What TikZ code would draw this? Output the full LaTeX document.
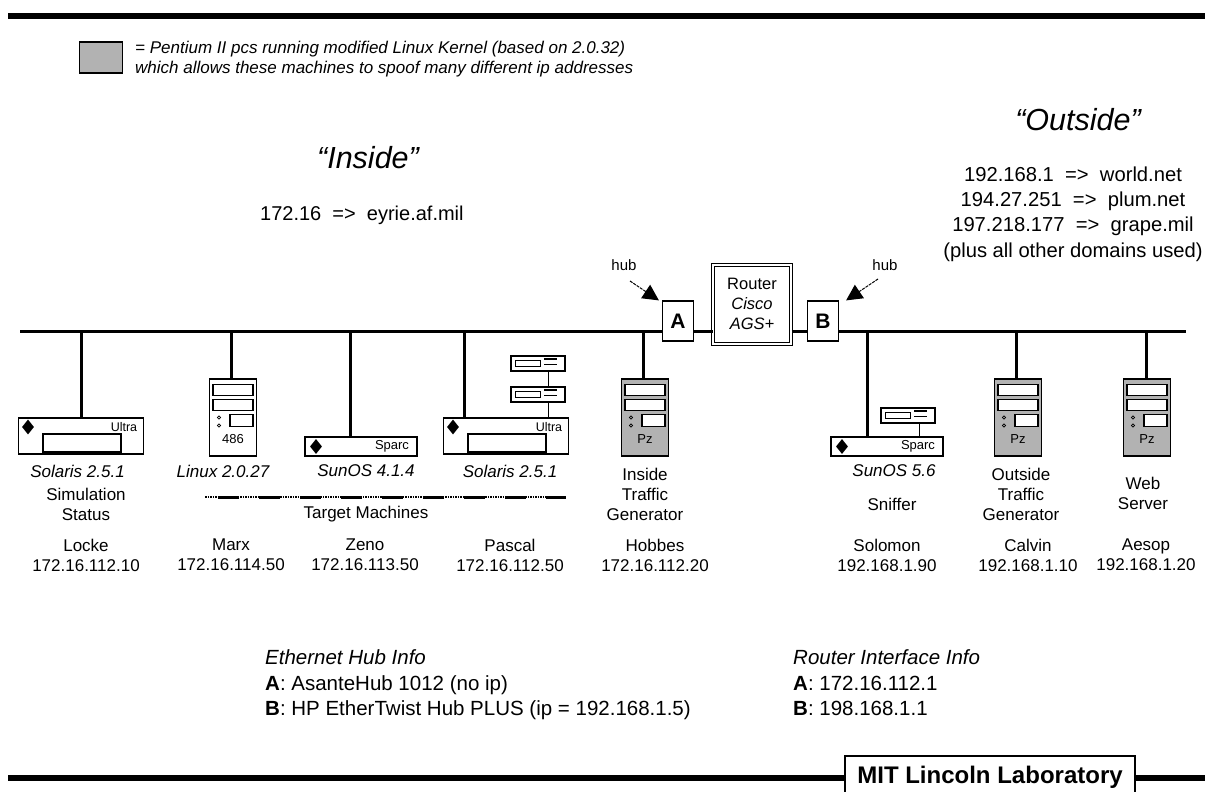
\documentclass[tikz,border=0pt]{standalone}
\usepackage{fontspec}
\setmainfont{Liberation Sans}
\usetikzlibrary{arrows.meta,shapes.geometric}
\definecolor{pzgray}{gray}{0.70}
\tikzset{
  wire/.style={line width=3pt},
  thinwire/.style={line width=1pt},
  bar/.style={line width=6pt},
  lbl/.style={font=\fontsize{17}{20}\selectfont, inner sep=0pt, align=center},
  oslbl/.style={lbl, font=\fontsize{17}{20}\selectfont\itshape},
  infolbl/.style={lbl, anchor=north west, align=left, font=\fontsize{20.5}{25.5}\selectfont},
  hubbox/.style={draw, line width=1.2pt, fill=white, minimum width=31pt, minimum height=40pt, inner sep=0pt, font=\fontsize{21}{23}\selectfont\bfseries},
  towerbox/.style={draw, line width=1.2pt, minimum width=47pt, minimum height=77pt, inner sep=0pt},
  ultrabox/.style={draw, line width=1.2pt, fill=white, minimum width=125pt, minimum height=36pt, inner sep=0pt},
  sparcbox/.style={draw, line width=1.2pt, fill=white, minimum width=112pt, minimum height=19pt, inner sep=0pt},
  diskbox/.style={draw, line width=1.2pt, fill=white, minimum width=54pt, minimum height=15pt, inner sep=0pt},
  tower/.pic={
    \draw[line width=1.1pt, fill=white] (-20,-33) rectangle (20,-22);
    \draw[line width=1.1pt, fill=white] (-20,-18) rectangle (20,-7);
    \draw[line width=1.1pt, fill=white] (-3,-3) rectangle (20,9);
    \draw[line width=.7pt] (-14,0) circle (1.6pt) (-14,8) circle (1.6pt);
    \node[lbl, font=\fontsize{13}{15}\selectfont] (-label) at (0,22) {\tikzpictext};
  },
  ultra/.pic={
    \node[diamond, fill=black, minimum width=12pt, minimum height=15pt, inner sep=0pt] (-logo) at (-53,-9) {};
    \node[lbl, font=\fontsize{12.5}{14}\selectfont] (-label) at (43,-9) {Ultra};
    \draw[line width=1.1pt] (-38,16) rectangle (40,-2);
    \draw[line width=2pt] (-38,16) -- (40,16);
  },
  sparc/.pic={
    \node[diamond, fill=black, minimum width=12pt, minimum height=15pt, inner sep=0pt] (-logo) at (-45,0) {};
    \node[lbl, font=\fontsize{13}{15}\selectfont] (-label) at (31,0) {Sparc};
  },
  disk/.pic={
    \draw[line width=1pt] (-23,-3.5) rectangle (2,2.5);
    \draw[line width=2pt] (6,-5) -- (19,-5);
    \draw[line width=.8pt] (6,.5) -- (19,.5);
  },
}
\begin{document}
\begin{tikzpicture}[x=1pt,y=-1pt]
  \useasboundingbox (0,0) rectangle (1205,792);

  \coordinate (topL) at (8,16);
  \coordinate (topR) at (1205,16);
  \draw[bar] (topL) -- (topR);

  % legend
  \node[draw, line width=1.2pt, fill=pzgray, minimum width=43pt, minimum height=31pt, inner sep=0pt] (legend) at (101,57.5) {};
  \node[lbl, anchor=west, align=left, font=\fontsize{17}{20}\selectfont\itshape] (legendtxt) at (135,59.5) {= Pentium II pcs running modified Linux Kernel (based on 2.0.32)\\which allows these machines to spoof many different ip addresses};

  % networks
  \node[lbl, font=\fontsize{30.5}{32}\selectfont\itshape] (inside) at (368,158) {“Inside”};
  \node[lbl, anchor=west, font=\fontsize{20}{25}\selectfont] (insidenet) at (260,215) {172.16 \ =\textgreater{} \ eyrie.af.mil};
  \node[lbl, font=\fontsize{30.5}{32}\selectfont\itshape] (outside) at (1078,120) {“Outside”};
  \node[lbl, font=\fontsize{20.2}{25.3}\selectfont] (outsidenet) at (1073,214) {192.168.1 \ =\textgreater{} \ world.net\\194.27.251 \ =\textgreater{} \ plum.net\\197.218.177 \ =\textgreater{} \ grape.mil\\(plus all other domains used)};

  % hubs and router
  \node[hubbox] (hubA) at (678,321) {A};
  \node[hubbox] (hubB) at (823,321) {B};
  \node[draw, double, double distance=2pt, line width=1pt, fill=white, minimum width=78pt, minimum height=79pt, inner sep=0pt, font=\fontsize{16.5}{20}\selectfont, align=center] (router) at (752,304) {Router\\\textit{Cisco}\\\textit{AGS+}};

  \coordinate (busL) at (20,331);
  \coordinate (busR) at (1186,331);
  \draw[wire] (busL) -- (busL -| hubA.west);
  \draw[wire] (busL -| hubA.east) -- (busL -| router.west);
  \draw[wire] (busL -| router.east) -- (busL -| hubB.west);
  \draw[wire] (busL -| hubB.east) -- (busR);

  \node[lbl, font=\fontsize{15}{17}\selectfont] (hubAlbl) at (624,265) {hub};
  \node[lbl, font=\fontsize{15}{17}\selectfont] (hubBlbl) at (885,265) {hub};
  \coordinate (hubAfrom) at (630,281);
  \coordinate (hubBfrom) at (878,279);
  \draw[thinwire, dash pattern=on 3pt off 1pt, -{Triangle[width=16pt,length=16pt]}] (hubAfrom) -- ([xshift=-3pt]hubA.north west);
  \draw[thinwire, dash pattern=on 3pt off 1pt, -{Triangle[width=16pt,length=16pt]}] (hubBfrom) -- ([xshift=7pt]hubB.north east);

  % machines
  \node[ultrabox] (locke) at (81,436) {};
  \pic (lockeparts) at (locke.center) {ultra};
  \node[towerbox, fill=white] (marx) at (233,417.5) {};
  \pic[pic text=486] (marxparts) at (marx.center) {tower};
  \node[sparcbox] (zeno) at (361,446.5) {};
  \pic (zenoparts) at (zeno.center) {sparc};
  \node[ultrabox] (pascal) at (506,436) {};
  \pic (pascalparts) at (pascal.center) {ultra};
  \node[diskbox] (pascaldiskA) at (538,363.5) {};
  \pic at (pascaldiskA.center) {disk};
  \node[diskbox] (pascaldiskB) at (538,394.5) {};
  \pic at (pascaldiskB.center) {disk};
  \node[towerbox, fill=pzgray] (hobbes) at (645,417.5) {};
  \pic[pic text=Pz] (hobbesparts) at (hobbes.center) {tower};
  \node[sparcbox] (solomon) at (887,446.5) {};
  \pic (solomonparts) at (solomon.center) {sparc};
  \node[diskbox] (solomondisk) at (908,415.5) {};
  \pic at (solomondisk.center) {disk};
  \node[towerbox, fill=pzgray] (calvin) at (1018,417.5) {};
  \pic[pic text=Pz] (calvinparts) at (calvin.center) {tower};
  \node[towerbox, fill=pzgray] (aesop) at (1147,417.5) {};
  \pic[pic text=Pz] (aesopparts) at (aesop.center) {tower};

  % drops from the bus
  \coordinate (marxtap) at (231,331);
  \coordinate (zenotap) at (350,331);
  \coordinate (pascaltap) at (464,331);
  \coordinate (hobbestap) at (643,331);
  \coordinate (solomontap) at (867,331);
  \coordinate (calvintap) at (1016,331);
  \coordinate (aesoptap) at (1146,331);
  \draw[wire] (busL -| locke.north) -- (locke.north);
  \draw[wire] (marxtap) -- (marxtap |- marx.north);
  \draw[wire] (zenotap) -- (zenotap |- zeno.north);
  \draw[wire] (pascaltap) -- (pascaltap |- pascal.north);
  \draw[wire] (hobbestap) -- (hobbestap |- hobbes.north);
  \draw[wire] (solomontap) -- (solomontap |- solomon.north);
  \draw[wire] (calvintap) -- (calvintap |- calvin.north);
  \draw[wire] (aesoptap) -- (aesoptap |- aesop.north);
  \draw[thinwire] ([xshift=10pt]pascaldiskA.south) -- ([xshift=10pt]pascaldiskB.north);
  \draw[thinwire] ([xshift=10pt]pascaldiskB.south) -- ([xshift=10pt]pascaldiskB.south |- pascal.north);
  \draw[thinwire] ([xshift=11pt]solomondisk.south) -- ([xshift=11pt]solomondisk.south |- solomon.north);

  % labels under the machines
  \node[oslbl] (lockeos) at (77.5,471) {Solaris 2.5.1};
  \node[lbl] (lockerole) at (86,504) {Simulation\\Status};
  \node[lbl] (lockeip) at (86,555) {Locke\\172.16.112.10};
  \node[oslbl] (marxos) at (223,471) {Linux 2.0.27};
  \node[lbl] (marxip) at (231,555) {Marx\\172.16.114.50};
  \node[oslbl] (zenoos) at (366,471) {SunOS 4.1.4};
  \node[lbl] (zenoip) at (365,555) {Zeno\\172.16.113.50};
  \node[oslbl] (pascalos) at (510,471) {Solaris 2.5.1};
  \node[lbl] (pascalip) at (510,555) {Pascal\\172.16.112.50};
  \coordinate (targetL) at (205,497);
  \coordinate (targetR) at (566,497);
  \draw[line width=2pt, dash pattern=on 1.5pt off 1pt] (targetL) -- (targetR);
  \draw[line width=3pt, dash pattern=on 21pt off 20pt, dash phase=-13pt] (targetL) -- (targetR);
  \node[lbl] (target) at (366,514) {Target Machines};
  \node[lbl] (hobbesrole) at (645,494) {Inside\\Traffic\\Generator};
  \node[lbl] (hobbesip) at (655,555) {Hobbes\\172.16.112.20};
  \node[oslbl] (solomonos) at (894,471) {SunOS 5.6};
  \node[lbl] (solomonrole) at (892,504) {Sniffer};
  \node[lbl] (solomonip) at (887,555) {Solomon\\192.168.1.90};
  \node[lbl] (calvinrole) at (1021,494) {Outside\\Traffic\\Generator};
  \node[lbl] (calvinip) at (1028,555) {Calvin\\192.168.1.10};
  \node[lbl] (aesoprole) at (1143,493.5) {Web\\Server};
  \node[lbl] (aesopip) at (1146,555) {Aesop\\192.168.1.20};

  % info blocks
  \node[infolbl] (hubinfo) at (265,649.5) {\textit{Ethernet Hub Info}\\\textbf{A}: AsanteHub 1012 (no ip)\\\textbf{B}: HP EtherTwist Hub PLUS (ip = 192.168.1.5)};
  \node[infolbl] (routerinfo) at (793,649.5) {\textit{Router Interface Info}\\\textbf{A}: 172.16.112.1\\\textbf{B}: 198.168.1.1};

  % footer
  \node[draw, line width=1.2pt, fill=white, minimum width=290pt, minimum height=44pt, inner sep=0pt] (mit) at (990,778) {};
  \node[lbl, font=\fontsize{24}{26}\selectfont\bfseries] (mittxt) at (990,777) {MIT Lincoln Laboratory};
  \coordinate (footL) at (8,778);
  \coordinate (footR) at (1205,778);
  \draw[bar] (footL) -- (mit.west |- footL);
  \draw[bar] (mit.east |- footR) -- (footR);
\end{tikzpicture}
\end{document}
